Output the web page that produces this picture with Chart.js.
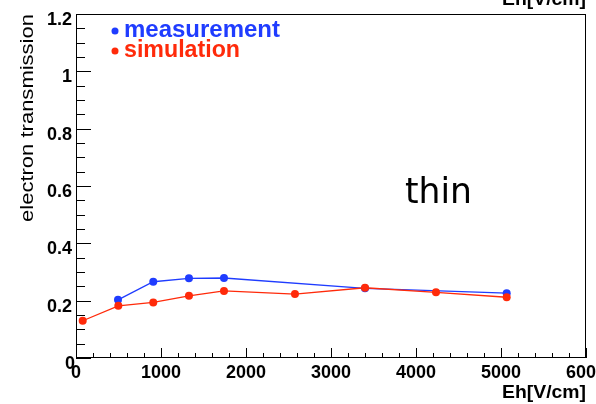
<!DOCTYPE html>
<html>
<head>
<meta charset="utf-8">
<script src="https://cdn.jsdelivr.net/npm/chart.js@4/dist/chart.umd.min.js"></script>
<style>
  html, body { margin: 0; padding: 0; background: #ffffff; }
  canvas { display: block; }
</style>
</head>
<body>
<canvas id="c" width="596" height="404"></canvas>
<script>
// ---- data ----
const measX = [494, 909, 1329, 1741, 3400, 5067];
const measY = [0.203, 0.266, 0.278, 0.279, 0.243, 0.226];
const simX = [79, 498, 909, 1329, 1741, 2576, 3400, 4235, 5067];
const simY = [0.130, 0.182, 0.194, 0.217, 0.234, 0.223, 0.245, 0.229, 0.212];

const xMajorTicks = [0, 1000, 2000, 3000, 4000, 5000, 6000];
const xTickLabels = ['0', '1000', '2000', '3000', '4000', '5000', '6000'];
const yMajorTicks = [0, 0.2, 0.4, 0.6, 0.8, 1.0, 1.2];
const yTickLabels = ['0', '0.2', '0.4', '0.6', '0.8', '1', '1.2'];
const xMinorStep = 200;
const yMinorStep = 0.05;

const seriesNames = ['measurement', 'simulation'];
const blue = '#1f3cff';
const red = '#ff2a0a';

const toPts = (xs, ys) => xs.map((x, i) => ({ x: x, y: ys[i] }));

function fitText(ctx, text, x, y, width, align) {
  const w = ctx.measureText(text).width;
  const s = width / w;
  ctx.save();
  ctx.translate(x, y);
  ctx.scale(s, 1);
  ctx.textAlign = align || 'left';
  ctx.fillText(text, 0, 0);
  ctx.restore();
}

const decorPlugin = {
  id: 'decor',
  afterDraw(chart) {
    const ctx = chart.ctx;
    const xs = chart.scales.x, ys = chart.scales.y;
    const a = chart.chartArea;
    ctx.save();
    // frame
    ctx.strokeStyle = '#000';
    ctx.lineWidth = 1;
    ctx.strokeRect(Math.round(a.left) + 0.5, Math.round(a.top) + 0.5,
                   Math.round(a.right - a.left) - 1, Math.round(a.bottom - a.top) - 1);
    // y ticks (inside)
    ctx.beginPath();
    for (let v = 0; v <= 1.2 + 1e-9; v += yMinorStep) {
      const py = Math.round(ys.getPixelForValue(v)) + 0.5;
      const isMajor = Math.abs(v / 0.2 - Math.round(v / 0.2)) < 1e-6;
      const len = isMajor ? 15 : 9;
      ctx.moveTo(a.left, py);
      ctx.lineTo(a.left + len, py);
    }
    // x ticks (inside)
    for (let v = 0; v <= 6000; v += xMinorStep) {
      const px = Math.round(xs.getPixelForValue(v)) + 0.5;
      const isMajor = v % 1000 === 0;
      const len = isMajor ? 10 : 5;
      ctx.moveTo(px, a.bottom);
      ctx.lineTo(px, a.bottom - len);
    }
    ctx.stroke();

    // tick labels
    ctx.fillStyle = '#000';
    ctx.font = 'bold 18px "Liberation Sans", Arial, sans-serif';
    ctx.textBaseline = 'alphabetic';
    yMajorTicks.forEach((v, i) => {
      const py = ys.getPixelForValue(v);
      ctx.textAlign = 'right';
      const xr = (v === 0) ? 75 : 72;
      ctx.fillText(yTickLabels[i], xr, py + 11);
    });
    xMajorTicks.forEach((v, i) => {
      const px = xs.getPixelForValue(v);
      ctx.textAlign = 'center';
      ctx.fillText(xTickLabels[i], px, 378);
    });

    // axis titles
    ctx.font = 'bold 18px "Liberation Sans", Arial, sans-serif';
    fitText(ctx, 'Eh[V/cm]', 586, 398, 84, 'right');
    fitText(ctx, 'Eh[V/cm]', 586, 5, 84, 'right');

    ctx.save();
    ctx.translate(33, 222);
    ctx.rotate(-Math.PI / 2);
    ctx.font = '18px "Liberation Sans", Arial, sans-serif';
    fitText(ctx, 'electron transmission', 0, 0, 208, 'left');
    ctx.restore();

    // legend
    ctx.font = 'bold 23px "Liberation Sans", Arial, sans-serif';
    ctx.fillStyle = blue;
    ctx.beginPath(); ctx.arc(115, 31, 3.5, 0, Math.PI * 2); ctx.fill();
    fitText(ctx, seriesNames[0], 124, 37, 156, 'left');
    ctx.fillStyle = red;
    ctx.beginPath(); ctx.arc(115, 51, 3.5, 0, Math.PI * 2); ctx.fill();
    fitText(ctx, seriesNames[1], 124, 57, 116, 'left');

    // annotation
    ctx.fillStyle = '#000';
    ctx.font = '35px "DejaVu Sans", sans-serif';
    fitText(ctx, 'thin', 405, 203, 67, 'left');
    ctx.restore();
  }
};

new Chart(document.getElementById('c'), {
  type: 'scatter',
  data: {
    datasets: [
      {
        label: seriesNames[1],
        data: toPts(simX, simY),
        showLine: true,
        borderColor: red,
        backgroundColor: red,
        borderWidth: 1.3,
        pointRadius: 4,
        pointBorderWidth: 0,
        tension: 0
      },
      {
        label: seriesNames[0],
        data: toPts(measX, measY),
        showLine: true,
        borderColor: blue,
        backgroundColor: blue,
        borderWidth: 1.3,
        pointRadius: 4,
        pointBorderWidth: 0,
        tension: 0
      }
    ]
  },
  options: {
    responsive: false,
    animation: false,
    devicePixelRatio: 1,
    layout: { padding: { left: 76, top: 14, right: 10, bottom: 46 } },
    plugins: { legend: { display: false }, tooltip: { enabled: false } },
    scales: {
      x: { type: 'linear', min: 0, max: 6000, display: false },
      y: { type: 'linear', min: 0, max: 1.2, display: false }
    }
  },
  plugins: [decorPlugin]
});
</script>
</body>
</html>
